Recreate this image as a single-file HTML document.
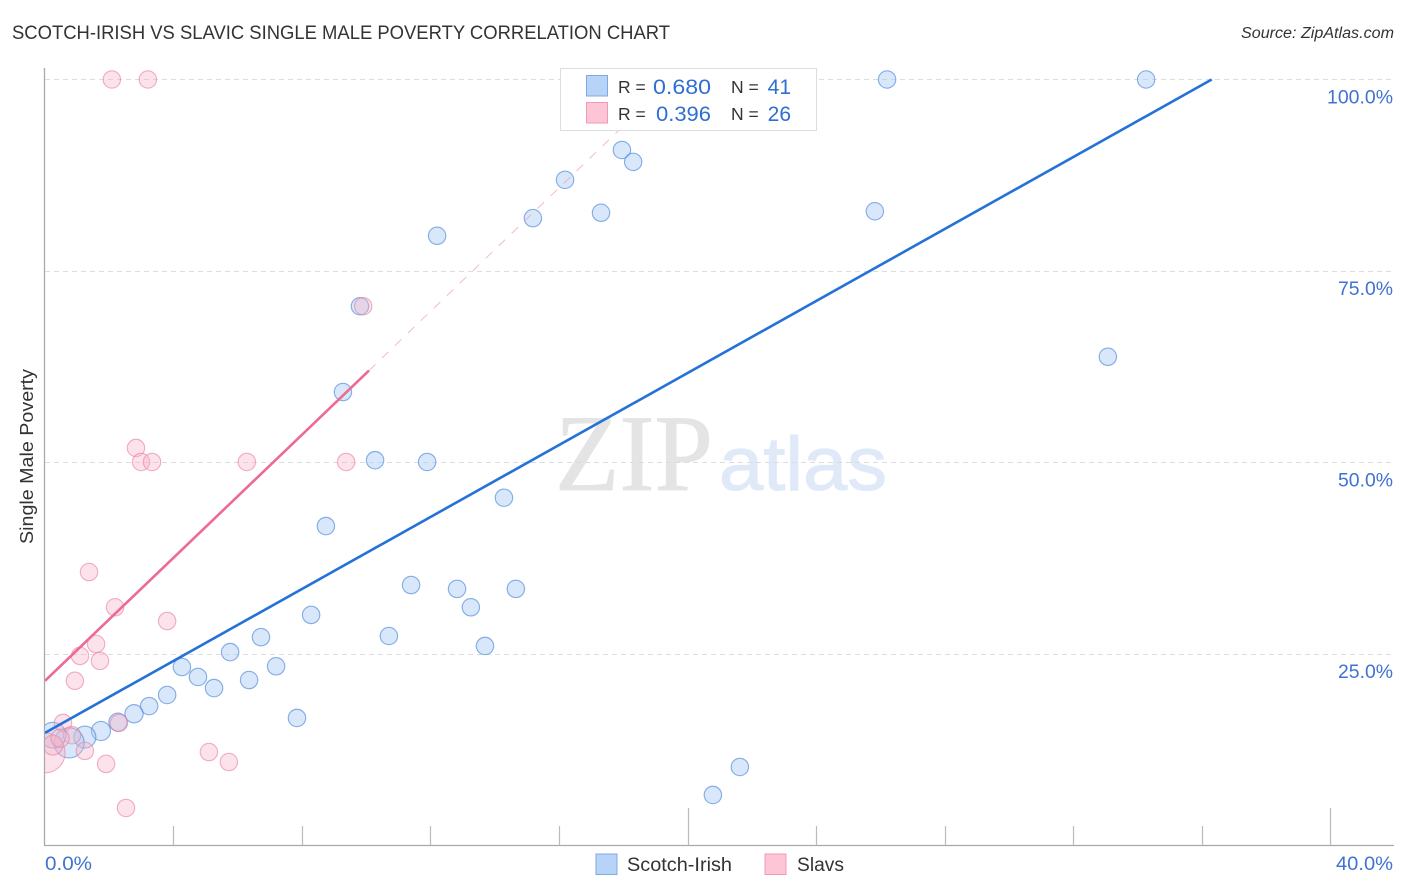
<!DOCTYPE html>
<html lang="en">
<head>
<meta charset="utf-8">
<title>Scotch-Irish vs Slavic Single Male Poverty Correlation Chart</title>
<style>
html,body{margin:0;padding:0;background:#fff;}
svg{display:block;font-family:"Liberation Sans",sans-serif;}
</style>
</head>
<body>
<svg id="chart" xmlns="http://www.w3.org/2000/svg" width="1406" height="892" viewBox="0 0 1406 892">
  <defs>
    <clipPath id="plot-clip"><rect x="45" y="60" width="1349" height="785.5"/></clipPath>
  </defs>
  <rect width="1406" height="892" fill="#fff"/>
  <text x="12" y="39" font-size="19" fill="#333" textLength="658" lengthAdjust="spacingAndGlyphs">SCOTCH-IRISH VS SLAVIC SINGLE MALE POVERTY CORRELATION CHART</text>
  <text x="1394" y="38" font-size="15.5" font-style="italic" fill="#333" text-anchor="end" textLength="153" lengthAdjust="spacingAndGlyphs">Source: ZipAtlas.com</text>
  <g>
    <text x="555" y="490" font-family="'Liberation Serif',serif" font-size="109" fill="#e4e4e4" stroke="#e4e4e4" stroke-width="0.8" textLength="158" lengthAdjust="spacingAndGlyphs">ZIP</text>
    <text x="719" y="490" font-size="76" fill="#dfe9f8" stroke="#dfe9f8" stroke-width="1" textLength="168" lengthAdjust="spacingAndGlyphs">atlas</text>
  </g>
  <g id="grid"></g>
  <g id="axes"></g>
  <g id="marks" clip-path="url(#plot-clip)"></g>
  <text transform="translate(33 456.5) rotate(-90)" font-size="18.5" fill="#333" text-anchor="middle" textLength="175" lengthAdjust="spacingAndGlyphs">Single Male Poverty</text>

  <g>
    <rect x="560.5" y="68.5" width="256" height="62" fill="#fff" fill-opacity="0.93" stroke="#ddd"/>
    <rect x="586.5" y="75.5" width="21" height="20.5" fill="#b7d3f7" stroke="#7fa9e0"/>
    <rect x="586.5" y="102.5" width="21" height="20.5" fill="#fdc5d6" stroke="#f09ab5"/>
    <text x="618" y="93" font-size="17.5" fill="#333">R =</text>
    <text x="653" y="94" font-size="21" fill="#2f6fd0" textLength="58" lengthAdjust="spacingAndGlyphs">0.680</text>
    <text x="731" y="93" font-size="17.5" fill="#333">N =</text>
    <text x="791" y="94" font-size="21" fill="#2f6fd0" text-anchor="end">41</text>
    <text x="618" y="120" font-size="17.5" fill="#333">R =</text>
    <text x="656" y="121" font-size="21" fill="#2f6fd0" textLength="55" lengthAdjust="spacingAndGlyphs">0.396</text>
    <text x="731" y="120" font-size="17.5" fill="#333">N =</text>
    <text x="791" y="121" font-size="21" fill="#2f6fd0" text-anchor="end">26</text>
  </g>

  <g>
    <g>
      <rect x="596" y="854" width="21" height="20.5" fill="#b7d3f7" stroke="#7fa9e0"/>
      <text x="627" y="871" font-size="19" fill="#333" textLength="105" lengthAdjust="spacingAndGlyphs">Scotch-Irish</text>
    </g>
    <g>
      <rect x="765" y="854" width="21" height="20.5" fill="#fdc5d6" stroke="#f09ab5"/>
      <text x="797" y="871" font-size="19" fill="#333" textLength="47" lengthAdjust="spacingAndGlyphs">Slavs</text>
    </g>
  </g>
</svg>
<script>
var yTickValues = [25, 50, 75, 100];
var yTickLabels = ["25.0%", "50.0%", "75.0%", "100.0%"];
var xTickValues = [0, 4, 8, 12, 16, 20, 24, 28, 32, 36, 40];
var xEndLabels = ["0.0%", "40.0%"];

var scotchX = [26.2,34.26,17.95,18.3,16.18,17.3,15.18,25.82,12.2,9.8,33.07,9.27,10.27,11.89,14.28,8.74,11.39,12.82,14.65,13.25,8.28,10.7,6.72,13.69,5.76,7.19,4.26,4.76,6.35,5.26,3.8,3.24,2.77,2.27,1.74,1.24,7.84,21.62,20.78,0.75,0.25];
var scotchY = [100,100,90.8,89.25,86.9,82.6,81.9,82.8,79.6,70.4,63.8,59.2,50.3,50.07,45.4,41.7,34,33.5,33.5,31.1,30.1,27.35,27.2,26.05,25.25,23.4,23.3,22,21.6,20.55,19.65,18.2,17.2,16.1,14.95,14.15,16.65,10.25,6.6,13.4,14.4];
var scotchWeight = [1,1,1,1,1,1,1,1,1,1,1,1,1,1,1,1,1,1,1,1,1,1,1,1,1,1,1,1,1,1,1,1,1.1,1.1,1.2,1.6,1,1,1,3,2.2];

var slavsX = [2.08,3.2,9.9,2.83,2.99,3.33,6.28,9.37,1.37,2.18,3.8,1.59,1.09,1.71,0.93,0.56,2.3,0.84,1.24,1.9,5.1,5.72,2.52,0,0.25,0.47];
var slavsY = [100,100,70.4,51.9,50.07,50.07,50.07,50.07,35.7,31.1,29.3,26.3,24.75,24.1,21.5,16,16,14.4,12.35,10.65,12.2,10.9,4.9,12.1,13.1,14];
var slavsWeight = [1,1,1,1,1,1,1,1,1,1,1,1,1,1,1,1,1,1,1,1,1,1,1,5.3,1.3,1.1];

var scotchTrendX = [0, 36.3];
var scotchTrendY = [14.7, 100];
var slavsTrendX = [0, 10.08];
var slavsTrendY = [21.5, 62];
var slavsExtendX = [10.08, 19.5];
var slavsExtendY = [62, 100];

var NS = "http://www.w3.org/2000/svg";
function xScale(v) { return 45 + v * 32.14; }
function yScale(v) { return 845.5 - v * 7.66; }
function rScale(w) { return 8.7 * Math.sqrt(w); }
function mk(parent, tag, attrs, text) {
  var el = document.createElementNS(NS, tag);
  for (var k in attrs) el.setAttribute(k, attrs[k]);
  if (text !== undefined) el.textContent = text;
  parent.appendChild(el);
  return el;
}
function labelWidth(s) { return s.length === 6 ? 66 : 55; }
var grid = document.getElementById("grid");
var axes = document.getElementById("axes");
var marks = document.getElementById("marks");

yTickValues.forEach(function (v, i) {
  var y = Math.floor(yScale(v)) + 0.5;
  var line = mk(grid, "line", {x1: 45, x2: 1394, y1: y, y2: y, stroke: "#dcdcdc", "stroke-width": 1, "stroke-dasharray": "5 4"});
  
  
  var label = mk(axes, "text", {x: 1393, y: yScale(v) + 24, "font-size": 19.5, fill: "#3f72d2", "text-anchor": "end", textLength: labelWidth(yTickLabels[i]), lengthAdjust: "spacingAndGlyphs"}, yTickLabels[i]);
  
  
});

var yAxis = mk(axes, "line", {x1: 44.5, x2: 44.5, y1: 68, y2: 846, stroke: "#aaa", "stroke-width": 1.3});


var xAxis = mk(axes, "line", {x1: 44, x2: 1394, y1: 845.5, y2: 845.5, stroke: "#aaa", "stroke-width": 1.3});



xTickValues.forEach(function (v, i) {
  if (i === 0) return;
  var x = Math.round(xScale(v) - 0.3) + 0.5;
  var top = (v === 20 || v === 40) ? 808 : 826;
  var tick = mk(axes, "line", {x1: x, x2: x, y1: top, y2: 845, stroke: "#bbb", "stroke-width": 1.2});
  
  
});
var xl0 = mk(axes, "text", {x: 45, y: 870, "font-size": 19.5, fill: "#3f72d2", textLength: 47, lengthAdjust: "spacingAndGlyphs"}, xEndLabels[0]);


var xl1 = mk(axes, "text", {x: 1393, y: 870, "font-size": 19.5, fill: "#3f72d2", "text-anchor": "end", textLength: 57, lengthAdjust: "spacingAndGlyphs"}, xEndLabels[1]);



scotchX.forEach(function (v, i) {
  var c = mk(marks, "circle", {cx: xScale(v), cy: yScale(scotchY[i]), r: rScale(scotchWeight[i]), fill: "#a9cdf5", "fill-opacity": 0.45, stroke: "#3f7fd8", "stroke-opacity": 0.6, "stroke-width": 1.15});
  
  
});
slavsX.forEach(function (v, i) {
  var c = mk(marks, "circle", {cx: xScale(v), cy: yScale(slavsY[i]), r: rScale(slavsWeight[i]), fill: "#f8b4c9", "fill-opacity": 0.38, stroke: "#ea7f9f", "stroke-opacity": 0.6, "stroke-width": 1.15});
  
  
});

var ext = mk(marks, "line", {x1: xScale(slavsExtendX[0]), y1: yScale(slavsExtendY[0]), x2: xScale(slavsExtendX[1]), y2: yScale(slavsExtendY[1]), stroke: "#e9a6bb", "stroke-width": 1, "stroke-dasharray": "9 9", "stroke-opacity": 0.75});


var tp = mk(marks, "line", {x1: xScale(slavsTrendX[0]), y1: yScale(slavsTrendY[0]), x2: xScale(slavsTrendX[1]), y2: yScale(slavsTrendY[1]), stroke: "#ec6a94", "stroke-width": 2.6});


var tb = mk(marks, "line", {x1: xScale(scotchTrendX[0]), y1: yScale(scotchTrendY[0]), x2: xScale(scotchTrendX[1]), y2: yScale(scotchTrendY[1]), stroke: "#2472d8", "stroke-width": 2.6});


</script>
</body>
</html>
